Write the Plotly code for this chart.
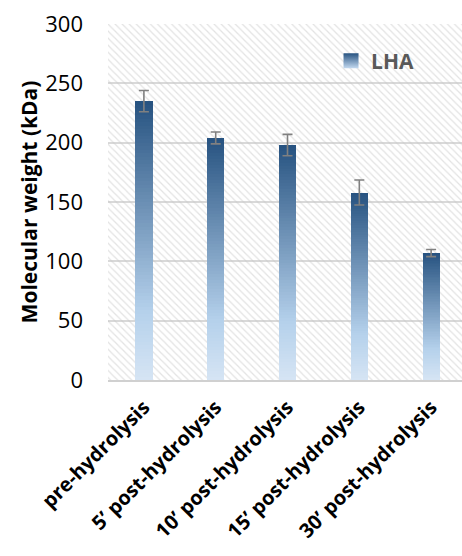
import plotly.graph_objects as go

categories = ["pre-hydrolysis", "5’ post-hydrolysis", "10’ post-hydrolysis",
              "15’ post-hydrolysis", "30’ post-hydrolysis"]
mw_values = [235, 204, 198, 158, 107]
mw_errors = [9, 5, 9, 10.5, 3]
series_name = "LHA"
y_ticks = [0, 50, 100, 150, 200, 250, 300]

X_RANGE = [-0.5, 4.43]
Y_RANGE = [0, 300]
N_STEPS = 80
BAR_W = 0.24

stops = [(0.0, (38, 82, 128)), (0.75, (180, 208, 235)), (1.0, (214, 229, 244))]


def grad_color(f):
    for (f0, c0), (f1, c1) in zip(stops[:-1], stops[1:]):
        if f0 <= f <= f1:
            t = (f - f0) / (f1 - f0)
            c = [round(a + (b - a) * t) for a, b in zip(c0, c1)]
            return "rgb(%d,%d,%d)" % tuple(c)
    return "rgb(%d,%d,%d)" % stops[-1][1]


xs = list(range(len(categories)))
fig = go.Figure()

# hatched plot background (bar trace so it sits beneath the data bars)
bg_lo, bg_hi = X_RANGE[0], X_RANGE[1] + 1
fig.add_trace(go.Bar(
    x=[(bg_lo + bg_hi) / 2], y=[Y_RANGE[1]], width=[bg_hi - bg_lo],
    marker=dict(color="rgba(0,0,0,0)", line=dict(width=0),
                pattern=dict(shape="\\", fgcolor="#c8c8c8", bgcolor="rgba(0,0,0,0)",
                             size=5, solidity=0.25, fillmode="overlay")),
    hoverinfo="skip", showlegend=False))

# gradient bars: overlaid shrinking bars
for i in range(N_STEPS):
    frac = (N_STEPS - i) / N_STEPS
    fig.add_trace(go.Bar(
        x=xs, y=[v * frac for v in mw_values], width=BAR_W,
        marker=dict(color=grad_color((i + 0.5) / N_STEPS), line=dict(width=0)),
        hoverinfo="skip", showlegend=False))

# error bars
fig.add_trace(go.Scatter(
    x=xs, y=mw_values, mode="markers", marker=dict(size=0.1, color="rgba(0,0,0,0)"),
    error_y=dict(type="data", array=mw_errors, color="#808080", thickness=1.6, width=5),
    showlegend=False, hoverinfo="skip"))

# legend entry
fig.add_trace(go.Scatter(
    x=[None], y=[None], mode="markers", name=series_name,
    marker=dict(symbol="square", size=15, color=grad_color(0.0),
                gradient=dict(type="vertical", color=grad_color(0.85)))))

fig.update_layout(
    width=462, height=556,
    margin=dict(l=108, r=0, t=24, b=176),
    paper_bgcolor="white", plot_bgcolor="white",
    barmode="overlay", bargap=0,
    font=dict(family="Open Sans", color="black"),
    showlegend=True,
    legend=dict(x=0.63, y=0.896, xanchor="left", yanchor="middle",
                bgcolor="rgba(0,0,0,0)",
                font=dict(size=21, color="#595959", family="Open Sans", weight="bold"),
                itemwidth=30),
    xaxis=dict(range=X_RANGE, tickvals=xs, ticktext=categories, tickangle=-45,
               automargin=False, ticklabelstandoff=6,
               showgrid=False, zeroline=False, showline=True, linecolor="#d0d0d0",
               linewidth=1.5, ticks="",
               tickfont=dict(size=20, family="Open Sans", weight="bold", color="black")),
    yaxis=dict(range=Y_RANGE, tickvals=y_ticks, showgrid=True, gridcolor="#d9d9d9",
               automargin=False,
               gridwidth=1.5, zeroline=False, showline=False, ticks="",
               ticklabelstandoff=24,
               tickfont=dict(size=22, family="Open Sans", color="black"),
               title=dict(text="Molecular weight (kDa)", standoff=1,
                          font=dict(size=21, family="Open Sans", weight="bold", color="black"))),
)

fig.write_html("out.html", config={"displayModeBar": False},
               post_script="document.body.style.margin='0';")
